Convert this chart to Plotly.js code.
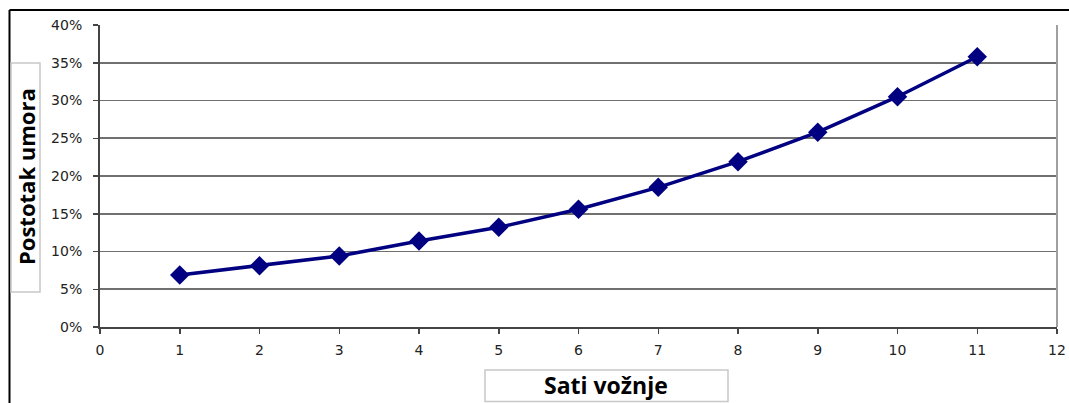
<!DOCTYPE html>
<html>
<head>
<meta charset="utf-8">
<script src="https://cdn.plot.ly/plotly-3.0.1.min.js"></script>
<style>
html,body{margin:0;padding:0;background:#fff;}
#chart{width:1069px;height:403px;}
</style>
</head>
<body>
<div id="chart"></div>
<script>
const hours = [1, 2, 3, 4, 5, 6, 7, 8, 9, 10, 11];
const fatigue = [0.069, 0.081, 0.094, 0.114, 0.132, 0.156, 0.185, 0.219, 0.258, 0.305, 0.358];
const xTitle = 'Sati vožnje';
const yTitle = 'Postotak umora';

const W = 1069, H = 403;
const L = 100, R = 12, T = 25, B = 76;
const pw = W - L - R, ph = H - T - B;
const px = v => (v - L) / pw;
const py = v => (H - B - v) / ph;

const tickFont = {family: 'DejaVu Sans, Arial, sans-serif', size: 14, color: '#222'};

const trace = {
  x: hours, y: fatigue, type: 'scatter', mode: 'lines+markers',
  line: {color: '#000080', width: 3.5},
  marker: {symbol: 'diamond', size: 15, color: '#000080'},
  hoverinfo: 'x+y'
};

const layout = {
  width: W, height: H,
  margin: {l: L, r: R, t: T, b: B, pad: 0},
  paper_bgcolor: '#fff', plot_bgcolor: '#fff',
  showlegend: false,
  font: tickFont,
  xaxis: {
    range: [0, 12], dtick: 1, tick0: 0, fixedrange: true,
    showgrid: false, zeroline: false,
    showline: true, linecolor: '#444', linewidth: 2,
    ticks: 'outside', ticklen: 5, tickwidth: 1.5, tickcolor: '#444',
    ticklabelstandoff: 4,
    tickfont: tickFont
  },
  yaxis: {
    range: [0, 0.4], dtick: 0.05, tick0: 0, tickformat: '.0%', fixedrange: true,
    showgrid: true, gridcolor: '#707070', gridwidth: 1.6,
    zeroline: false,
    showline: true, linecolor: '#444', linewidth: 2,
    ticks: 'outside', ticklen: 5, tickwidth: 1.5, tickcolor: '#444',
    ticklabelstandoff: 8,
    tickfont: tickFont
  },
  shapes: [
    {type: 'line', xref: 'paper', yref: 'paper', x0: 1, x1: 1, y0: 0, y1: 1,
     line: {color: '#a0a0a0', width: 2}},
    {type: 'line', xref: 'paper', yref: 'paper', x0: px(9.5), x1: px(9.5), y0: py(10), y1: py(404),
     line: {color: '#000', width: 2}},
    {type: 'line', xref: 'paper', yref: 'paper', x0: px(9.5), x1: px(1070), y0: py(10), y1: py(10),
     line: {color: '#000', width: 2}},
    {type: 'rect', xref: 'paper', yref: 'paper', x0: px(11), x1: px(40), y0: py(292), y1: py(63),
     line: {color: '#c8c8c8', width: 1.5}, fillcolor: '#fff'},
    {type: 'rect', xref: 'paper', yref: 'paper', x0: px(485), x1: px(728), y0: py(401.5), y1: py(370),
     line: {color: '#c8c8c8', width: 1.5}, fillcolor: '#fff'}
  ],
  annotations: [
    {text: '<b>' + yTitle + '</b>', xref: 'paper', yref: 'paper', x: px(26), y: py(177),
     xanchor: 'center', yanchor: 'middle', textangle: -90, showarrow: false,
     font: {family: 'Open Sans, Noto Sans, sans-serif', size: 22, color: '#000'}},
    {text: '<b>' + xTitle + '</b>', xref: 'paper', yref: 'paper', x: px(606), y: py(385),
     xanchor: 'center', yanchor: 'middle', showarrow: false,
     font: {family: 'Open Sans, Noto Sans, sans-serif', size: 23, color: '#000'}}
  ]
};

Plotly.newPlot('chart', [trace], layout, {displayModeBar: false, staticPlot: true});
</script>
</body>
</html>
